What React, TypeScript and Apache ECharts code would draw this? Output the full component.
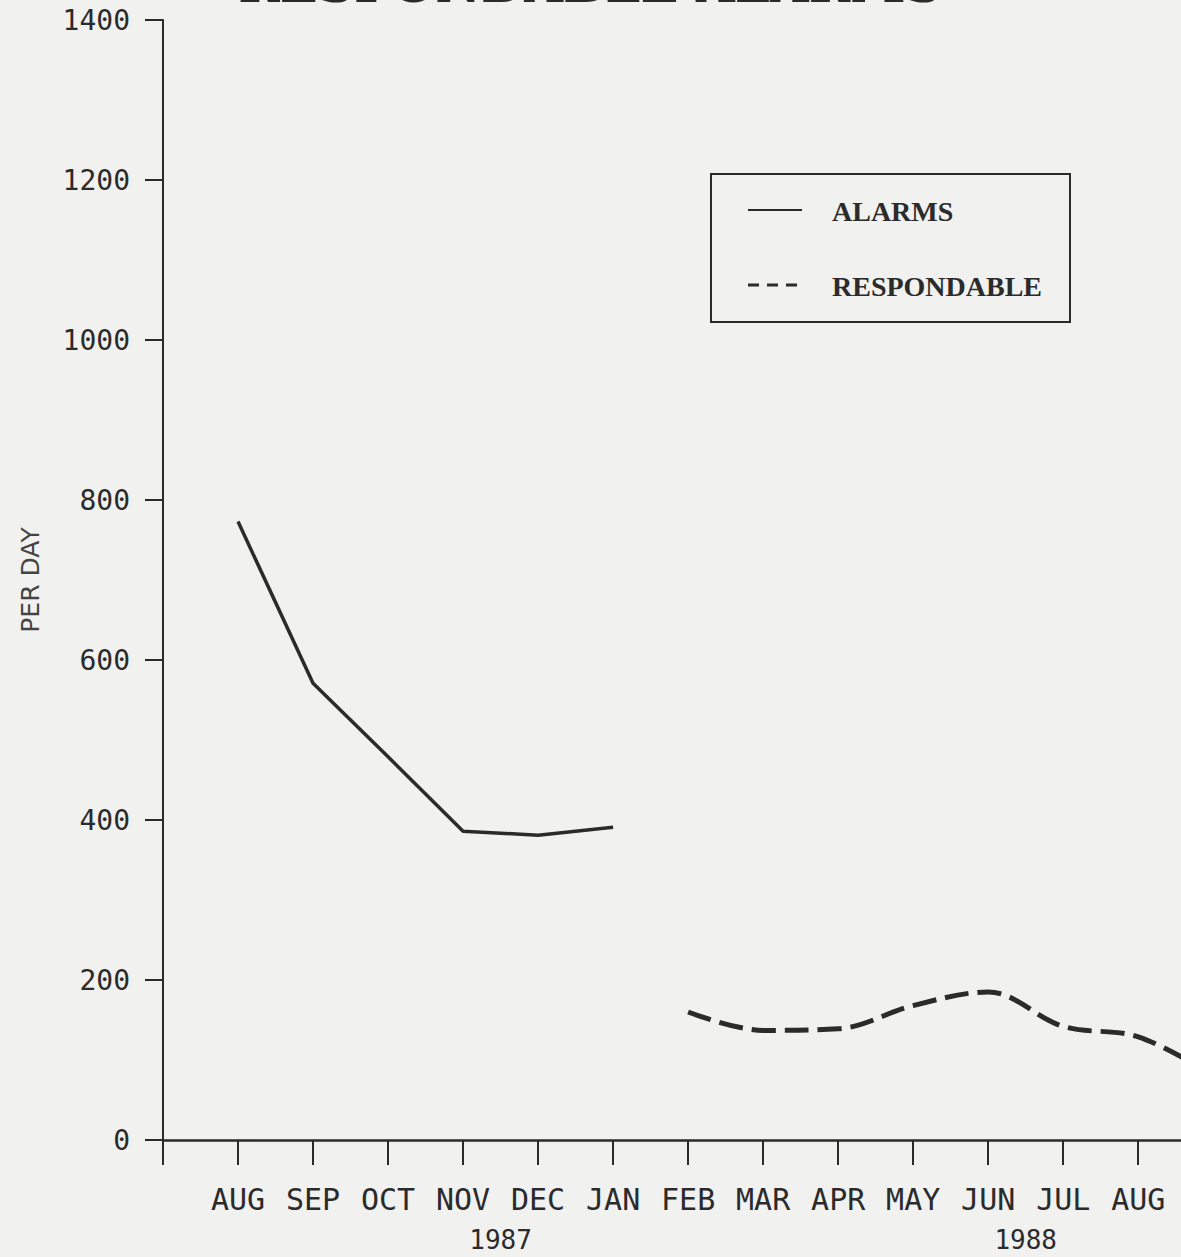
import React, { useEffect, useRef } from "react";
import * as echarts from "echarts";

const months = ["AUG", "SEP", "OCT", "NOV", "DEC", "JAN", "FEB", "MAR", "APR", "MAY", "JUN", "JUL", "AUG", "SEP"];
const alarms = [773, 571, 479, 386, 381, 391, null, null, null, null, null, null, null, null];
const respondable = [null, null, null, null, null, null, 160, 137, 139, 168, 185, 142, 129, 81];
const years = [
  { label: "1987", pos: 3.5 },
  { label: "1988", pos: 10.5 },
];
const yTicks = { min: 0, max: 1400, interval: 200 };
const title = "RESPONDABLE ALARMS";
const legendItems = ["ALARMS", "RESPONDABLE"];

const INK = "#2b2b2b";

export default function App() {
  const ref = useRef<HTMLDivElement>(null);
  useEffect(() => {
    document.body.style.margin = "0";
    const chart = echarts.init(ref.current!, null, { renderer: "svg" });
    const toPairs = (arr: (number | null)[]) =>
      arr.map((v, i) => [i, v] as [number, number | null]).filter((p) => p[1] !== null);
    const option: any = {
      animation: false,
      backgroundColor: "#f1f1f0",
      grid: { left: 163, right: 0, top: 20, bottom: 117 },
      xAxis: {
        type: "value",
        min: -1,
        max: 12.57,
        interval: 1,
        axisLine: { show: true, onZero: false, lineStyle: { color: INK, width: 2.5 } },
        axisTick: { show: true, length: 25, lineStyle: { color: INK, width: 2 } },
        splitLine: { show: false },
        axisLabel: {
          margin: 44,
          fontFamily: "DejaVu Sans Mono",
          fontSize: 30,
          color: INK,
          showMaxLabel: false,
          formatter: (v: number) => (Number.isInteger(v) && v >= 0 && v < months.length ? months[v] : ""),
        },
      },
      yAxis: {
        type: "value",
        min: yTicks.min,
        max: yTicks.max,
        interval: yTicks.interval,
        name: "PER DAY",
        nameLocation: "middle",
        nameRotate: 90,
        nameGap: 120,
        nameTextStyle: { fontFamily: "DejaVu Sans", fontSize: 25, color: "#444" },
        axisLine: { show: true, onZero: false, lineStyle: { color: INK, width: 2 } },
        axisTick: { show: true, length: 18, lineStyle: { color: INK, width: 2 } },
        splitLine: { show: false },
        axisLabel: {
          margin: 33,
          fontFamily: "DejaVu Sans Mono",
          fontSize: 28,
          color: INK,
          formatter: (v: number) => String(v),
        },
      },
      series: [
        {
          name: legendItems[0],
          type: "line",
          data: toPairs(alarms),
          showSymbol: false,
          lineStyle: { color: INK, width: 3.5 },
        },
        {
          name: legendItems[1],
          type: "line",
          data: toPairs(respondable),
          showSymbol: false,
          smooth: 0.35,
          lineStyle: { color: INK, width: 5, type: [24, 9] },
        },
      ],
    };
    chart.setOption(option);

    const yearTexts = years.map((y) => {
      const p = chart.convertToPixel({ gridIndex: 0 }, [y.pos, 0]);
      return {
        type: "text",
        x: p[0],
        y: 1240,
        style: {
          text: y.label,
          fontFamily: "DejaVu Sans Mono",
          fontSize: 26,
          fill: INK,
          align: "center",
          verticalAlign: "middle",
        },
      };
    });

    chart.setOption({
      graphic: [
        {
          type: "text",
          x: 590,
          y: 9,
          style: {
            text: title,
            fontFamily: "DejaVu Serif",
            fontWeight: "bold",
            fontSize: 50,
            fill: INK,
            align: "center",
            verticalAlign: "bottom",
          },
        },
        ...yearTexts,
        {
          type: "rect",
          shape: { x: 711, y: 174, width: 359, height: 148 },
          style: { fill: "transparent", stroke: INK, lineWidth: 2 },
        },
        {
          type: "line",
          shape: { x1: 748, y1: 210, x2: 802, y2: 210 },
          style: { stroke: INK, lineWidth: 2 },
        },
        {
          type: "line",
          shape: { x1: 748, y1: 285, x2: 802, y2: 285 },
          style: { stroke: INK, lineWidth: 3, lineDash: [11, 8] },
        },
        {
          type: "text",
          x: 832,
          y: 211,
          style: {
            text: legendItems[0],
            fontFamily: "Liberation Serif",
            fontWeight: "bold",
            fontSize: 28,
            fill: INK,
            verticalAlign: "middle",
          },
        },
        {
          type: "text",
          x: 832,
          y: 286,
          style: {
            text: legendItems[1],
            fontFamily: "Liberation Serif",
            fontWeight: "bold",
            fontSize: 28,
            fill: INK,
            verticalAlign: "middle",
          },
        },
      ],
    });
    return () => chart.dispose();
  }, []);
  return <div ref={ref} style={{ position: "fixed", left: 0, top: 0, width: 1181, height: 1257 }} />;
}
